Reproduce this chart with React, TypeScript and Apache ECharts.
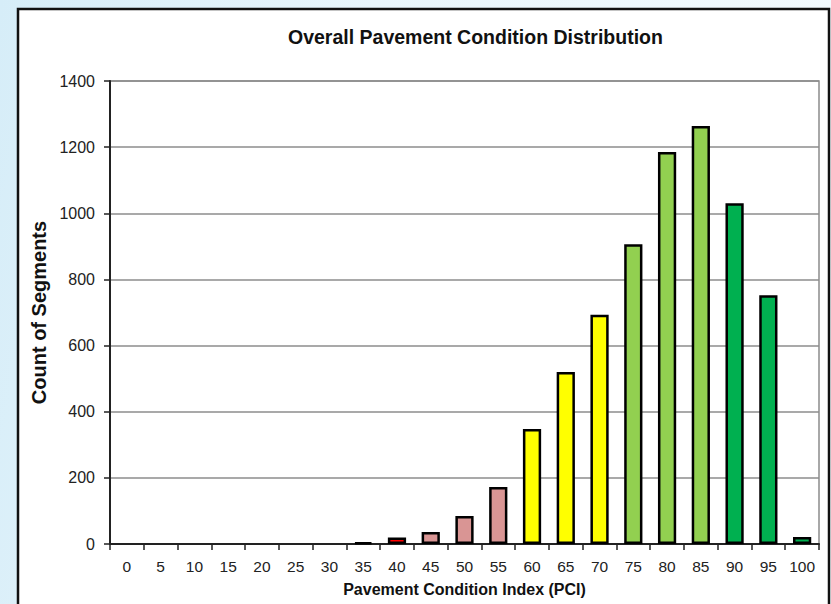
import React, { useEffect, useRef } from "react";
import * as echarts from "echarts";

const categories = ["0","5","10","15","20","25","30","35","40","45","50","55","60","65","70","75","80","85","90","95","100"];
const segmentCounts = [0,0,0,0,0,0,0,5,20,36,85,172,348,520,693,906,1185,1264,1030,752,21];
const barColors = [
  "#000000","#000000","#000000","#000000","#000000","#000000","#000000",
  "#000000","#FF0000","#D99594","#D99594","#D99594",
  "#FFFF00","#FFFF00","#FFFF00",
  "#92D050","#92D050","#92D050",
  "#00B050","#00B050","#00B050",
];
const yTicks = { min: 0, max: 1400, interval: 200 };

const FONT = "'Liberation Sans', Arial, sans-serif";

export default function App() {
  const ref = useRef<HTMLDivElement>(null);
  useEffect(() => {
    if (!ref.current) return;
    const chart = echarts.init(ref.current, undefined, { renderer: "svg" });
    chart.setOption({
      animation: false,
      backgroundColor: "transparent",
      graphic: [
        {
          type: "rect",
          z: -10,
          shape: { x: 18, y: 9, width: 811, height: 620 },
          style: { fill: "#ffffff", stroke: "#111111", lineWidth: 2.5 },
          silent: true,
        },
      ],
      title: {
        text: "Overall Pavement Condition Distribution",
        left: 288,
        top: 27,
        padding: 0,
        textStyle: { fontFamily: FONT, fontWeight: "bold", fontSize: 19.5, color: "#111" },
      },
      grid: {
        left: 110,
        top: 81,
        right: 12,
        bottom: 60,
        show: true,
        borderColor: "#8c8c8c",
        borderWidth: 1.5,
        containLabel: false,
      },
      xAxis: {
        type: "category",
        data: categories,
        boundaryGap: true,
        name: "Pavement Condition Index (PCI)",
        nameLocation: "middle",
        nameGap: 37,
        nameTextStyle: { fontFamily: FONT, fontWeight: "bold", fontSize: 16, color: "#111" },
        axisLine: { lineStyle: { color: "#222", width: 2 } },
        axisTick: { show: true, alignWithLabel: false, length: 6, lineStyle: { color: "#222", width: 1.5 } },
        axisLabel: { fontFamily: FONT, fontSize: 15.5, color: "#222", margin: 14, interval: 0 },
        splitLine: { show: false },
      },
      yAxis: {
        type: "value",
        min: yTicks.min,
        max: yTicks.max,
        interval: yTicks.interval,
        name: "Count of Segments",
        nameLocation: "middle",
        nameGap: 58,
        nameTextStyle: { fontFamily: FONT, fontWeight: "bold", fontSize: 20, color: "#111" },
        axisLine: { show: true, lineStyle: { color: "#222", width: 2 } },
        axisTick: { show: true, inside: false, length: 6, lineStyle: { color: "#222", width: 1.5 } },
        axisLabel: { fontFamily: FONT, fontSize: 16, color: "#222", margin: 15, formatter: (v: number) => String(v) },
        splitLine: { show: true, lineStyle: { color: "#8c8c8c", width: 1.5 } },
      },
      series: [
        {
          type: "bar",
          barWidth: "54%",
          data: segmentCounts.map((v, i) => ({
            value: v,
            itemStyle: {
              color: barColors[i],
              borderColor: "#000",
              borderWidth: v > 0 ? 2.5 : 0,
            },
          })),
        },
      ],
    });
    return () => chart.dispose();
  }, []);
  return (
    <div
      style={{
        position: "fixed",
        left: 0,
        top: 0,
        width: 831,
        height: 604,
        background: "linear-gradient(100deg, #d6edf8 0%, #e9f6fc 40%, #f4fbfe 100%)",
      }}
    >
      <div ref={ref} style={{ width: 831, height: 604 }} />
    </div>
  );
}
